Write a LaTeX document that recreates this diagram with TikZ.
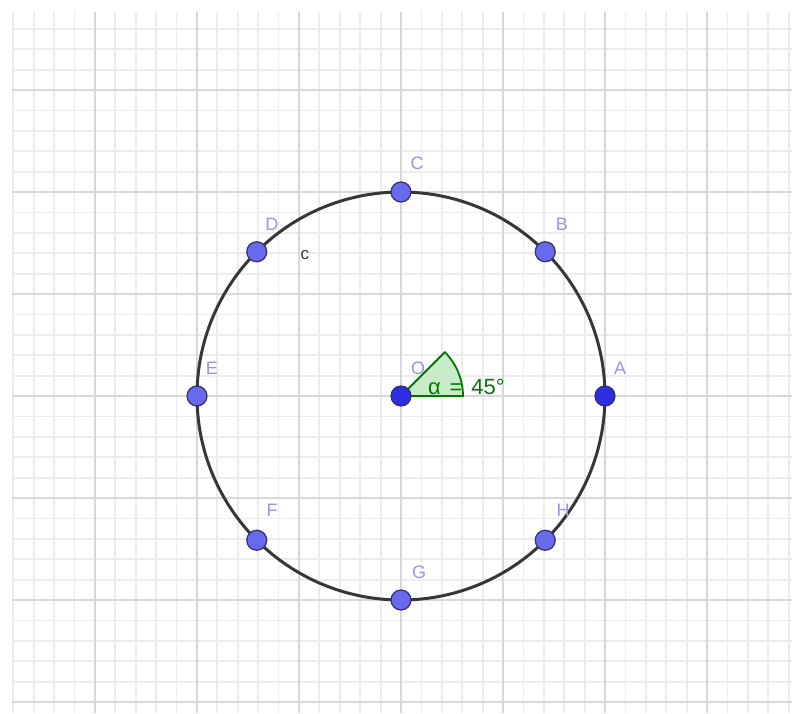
\documentclass[tikz,border=0pt]{standalone}
\usepackage{fontspec}
\setmainfont{Liberation Sans}
\definecolor{minorgrid}{RGB}{236,236,236}
\definecolor{majorgrid}{RGB}{216,216,216}
\definecolor{ptlight}{RGB}{105,105,238}
\definecolor{ptdark}{RGB}{45,45,225}
\definecolor{ptedge}{RGB}{50,50,110}
\definecolor{lblcol}{RGB}{150,150,232}
\definecolor{circcol}{RGB}{55,55,55}
\definecolor{anglecol}{RGB}{0,120,0}
\definecolor{anglefill}{RGB}{200,235,200}
\tikzset{
  minorline/.style={draw=minorgrid,line width=1.8pt},
  majorline/.style={draw=majorgrid,line width=2.8pt},
  ptlt/.style={circle,fill=ptlight,draw=ptedge,line width=1.2pt,minimum size=20pt,inner sep=0pt},
  ptdk/.style={circle,fill=ptdark,draw=ptedge,line width=1.2pt,minimum size=20pt,inner sep=0pt},
  lbl/.style={text=lblcol,font=\fontsize{18}{18}\selectfont,inner sep=0pt},
}
\begin{document}
\begin{tikzpicture}[x=1pt,y=1pt]
\useasboundingbox (-401,-317) rectangle (391,396);
\fill[white] (-401,-317) rectangle (391,396);
\begin{scope}
\clip (-389,-317) rectangle (391,384);
\foreach \i in {-19,...,19} {
  \draw[minorline] (20.4*\i,-317) -- (20.4*\i,384);
  \draw[minorline] (-389,20.4*\i) -- (391,20.4*\i);
}
\foreach \i in {-4,...,4} {
  \draw[majorline] (102*\i,-317) -- (102*\i,384);
  \draw[majorline] (-389,102*\i) -- (391,102*\i);
}
\end{scope}
% angle sector
\filldraw[fill=anglefill,draw=anglecol,line width=1.8pt] (0,0) -- (62,0) arc (0:45:62) -- cycle;
% circle
\draw[circcol,line width=3pt] (0,0) circle (204);
% points
\node[ptdk] (O) at (0,0) {};
\node[ptdk] (A) at (0:204) {};
\node[ptlt] (B) at (45:204) {};
\node[ptlt] (C) at (90:204) {};
\node[ptlt] (D) at (135:204) {};
\node[ptlt] (E) at (180:204) {};
\node[ptlt] (F) at (225:204) {};
\node[ptlt] (G) at (270:204) {};
\node[ptlt] (H) at (315:204) {};
% labels
\node[lbl] (lO) at (17,28) {O};
\node[lbl] (lA) at (219,28) {A};
\node[lbl] (lB) at (161,172) {B};
\node[lbl] (lC) at (16,233) {C};
\node[lbl] (lD) at (-129,172) {D};
\node[lbl] (lE) at (-189,28) {E};
\node[lbl] (lF) at (-129,-114) {F};
\node[lbl] (lG) at (18,-176) {G};
\node[lbl] (lH) at (162,-114) {H};
\node[text=circcol,font=\fontsize{17}{17}\selectfont,inner sep=0pt] (lc) at (-96,141) {c};
\node[text=anglecol,font=\fontsize{22}{22}\selectfont,inner sep=0pt,anchor=west] (lalpha) at (27,9) {α\hspace{0.4em}=\hspace{0.4em}45°};
\end{tikzpicture}
\end{document}
